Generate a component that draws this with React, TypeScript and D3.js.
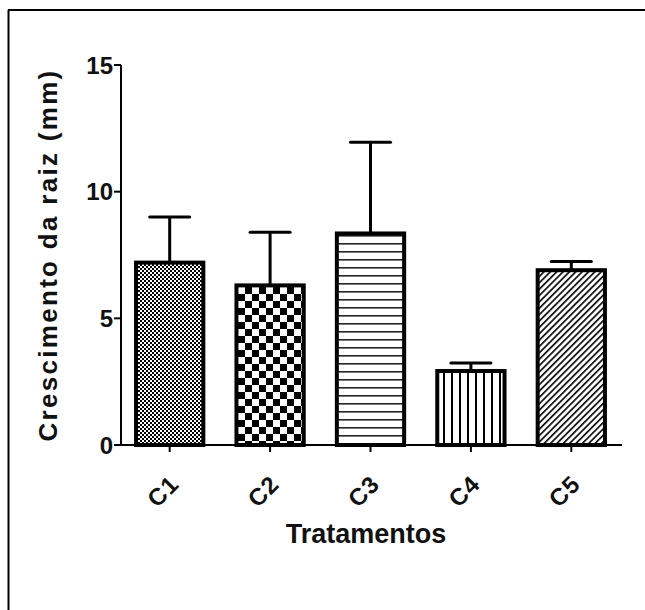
import React from "react";
import * as d3 from "d3";

const categories = ["C1", "C2", "C3", "C4", "C5"];
const means = [7.2, 6.3, 8.35, 2.92, 6.9];
const errors = [1.8, 2.1, 3.6, 0.32, 0.34];
const yTicks = [0, 5, 10, 15];
const patterns = ["dots", "checker", "hlines", "vlines", "diag"];

const W = 645;
const H = 610;
const margin = { top: 65, right: 25, bottom: 165, left: 121 };

const font = "Arial, 'Liberation Sans', sans-serif";

export default function App() {
  const x = d3
    .scaleBand()
    .domain(categories)
    .range([margin.left, W - margin.right])
    .paddingInner(0.33)
    .paddingOuter(0.15);
  const y = d3
    .scaleLinear()
    .domain([0, 15])
    .range([H - margin.bottom, margin.top]);

  const y0 = y(0);
  const capW = 40;

  return (
    <svg width={W} height={H} style={{ position: "absolute", left: 0, top: 0 }}>
      <defs>
        <pattern id="dots" width="4" height="4" patternUnits="userSpaceOnUse">
          <rect width="4" height="4" fill="#fff" />
          <rect x="0" y="0" width="2" height="2" fill="#000" />
          <rect x="2" y="2" width="2" height="2" fill="#000" />
        </pattern>
        <pattern id="checker" width="14" height="14" patternUnits="userSpaceOnUse">
          <rect width="14" height="14" fill="#fff" />
          <rect x="0" y="0" width="7" height="7" fill="#000" />
          <rect x="7" y="7" width="7" height="7" fill="#000" />
        </pattern>
        <pattern id="hlines" width="8" height="8" patternUnits="userSpaceOnUse">
          <rect width="8" height="8" fill="#fff" />
          <rect x="0" y="3" width="8" height="1.6" fill="#222" />
        </pattern>
        <pattern id="vlines" width="8" height="8" patternUnits="userSpaceOnUse">
          <rect width="8" height="8" fill="#fff" />
          <rect x="3" y="0" width="2" height="8" fill="#000" />
        </pattern>
        <pattern
          id="diag"
          width="4.5"
          height="4.5"
          patternUnits="userSpaceOnUse"
          patternTransform="rotate(45)"
        >
          <rect width="4.5" height="4.5" fill="#fff" />
          <rect x="0" y="0" width="1.6" height="4.5" fill="#000" />
        </pattern>
      </defs>

      {/* frame */}
      <line x1={8} y1={10} x2={W} y2={10} stroke="#000" strokeWidth={2} />
      <line x1={8.5} y1={10} x2={8.5} y2={H} stroke="#000" strokeWidth={2} />

      {/* bars */}
      {categories.map((c, i) => {
        const bx = x(c)!;
        const bw = x.bandwidth();
        const cx = bx + bw / 2;
        const top = y(means[i]);
        const et = y(means[i] + errors[i]);
        return (
          <g key={c}>
            <line x1={cx} x2={cx} y1={top} y2={et} stroke="#000" strokeWidth={3} />
            <line
              x1={cx - capW / 2}
              x2={cx + capW / 2}
              y1={et}
              y2={et}
              stroke="#000"
              strokeWidth={3}
              strokeLinecap="round"
            />
            <rect
              x={bx}
              y={top}
              width={bw}
              height={y0 - top}
              fill={`url(#${patterns[i]})`}
              stroke="#000"
              strokeWidth={4}
            />
          </g>
        );
      })}

      {/* y axis */}
      <line x1={margin.left} x2={margin.left} y1={y(15)} y2={y0 + 1} stroke="#000" strokeWidth={2} />
      {yTicks.map((t) => (
        <g key={t}>
          <line
            x1={margin.left - 7}
            x2={margin.left}
            y1={y(t)}
            y2={y(t)}
            stroke="#000"
            strokeWidth={2}
          />
          <text
            x={margin.left - 8}
            y={y(t)}
            dy="0.36em"
            textAnchor="end"
            fontFamily={font}
            fontWeight="bold"
            fontSize={24}
            fill="#111"
          >
            {t}
          </text>
        </g>
      ))}
      <text
        transform={`translate(57,${(y(15) + y0) / 2}) rotate(-90)`}
        textAnchor="middle"
        fontFamily={font}
        fontWeight="bold"
        fontSize={26}
        letterSpacing={2.3}
        fill="#111"
      >
        Crescimento da raiz (mm)
      </text>

      {/* x axis */}
      <line x1={margin.left} x2={W - margin.right + 2} y1={y0} y2={y0} stroke="#000" strokeWidth={2} />
      {categories.map((c) => {
        const cx = x(c)! + x.bandwidth() / 2;
        return (
          <g key={c}>
            <line x1={cx} x2={cx} y1={y0} y2={y0 + 7} stroke="#000" strokeWidth={2} />
            <text
              transform={`translate(${cx - 7},${y0 + 46}) rotate(-45)`}
              textAnchor="middle"
              dy="0.36em"
              fontFamily={font}
              fontWeight="bold"
              fontSize={24}
              letterSpacing={1}
              fill="#111"
            >
              {c}
            </text>
          </g>
        );
      })}
      <text
        x={366}
        y={543}
        textAnchor="middle"
        fontFamily={font}
        fontWeight="bold"
        fontSize={27}
        fill="#111"
      >
        Tratamentos
      </text>
    </svg>
  );
}
